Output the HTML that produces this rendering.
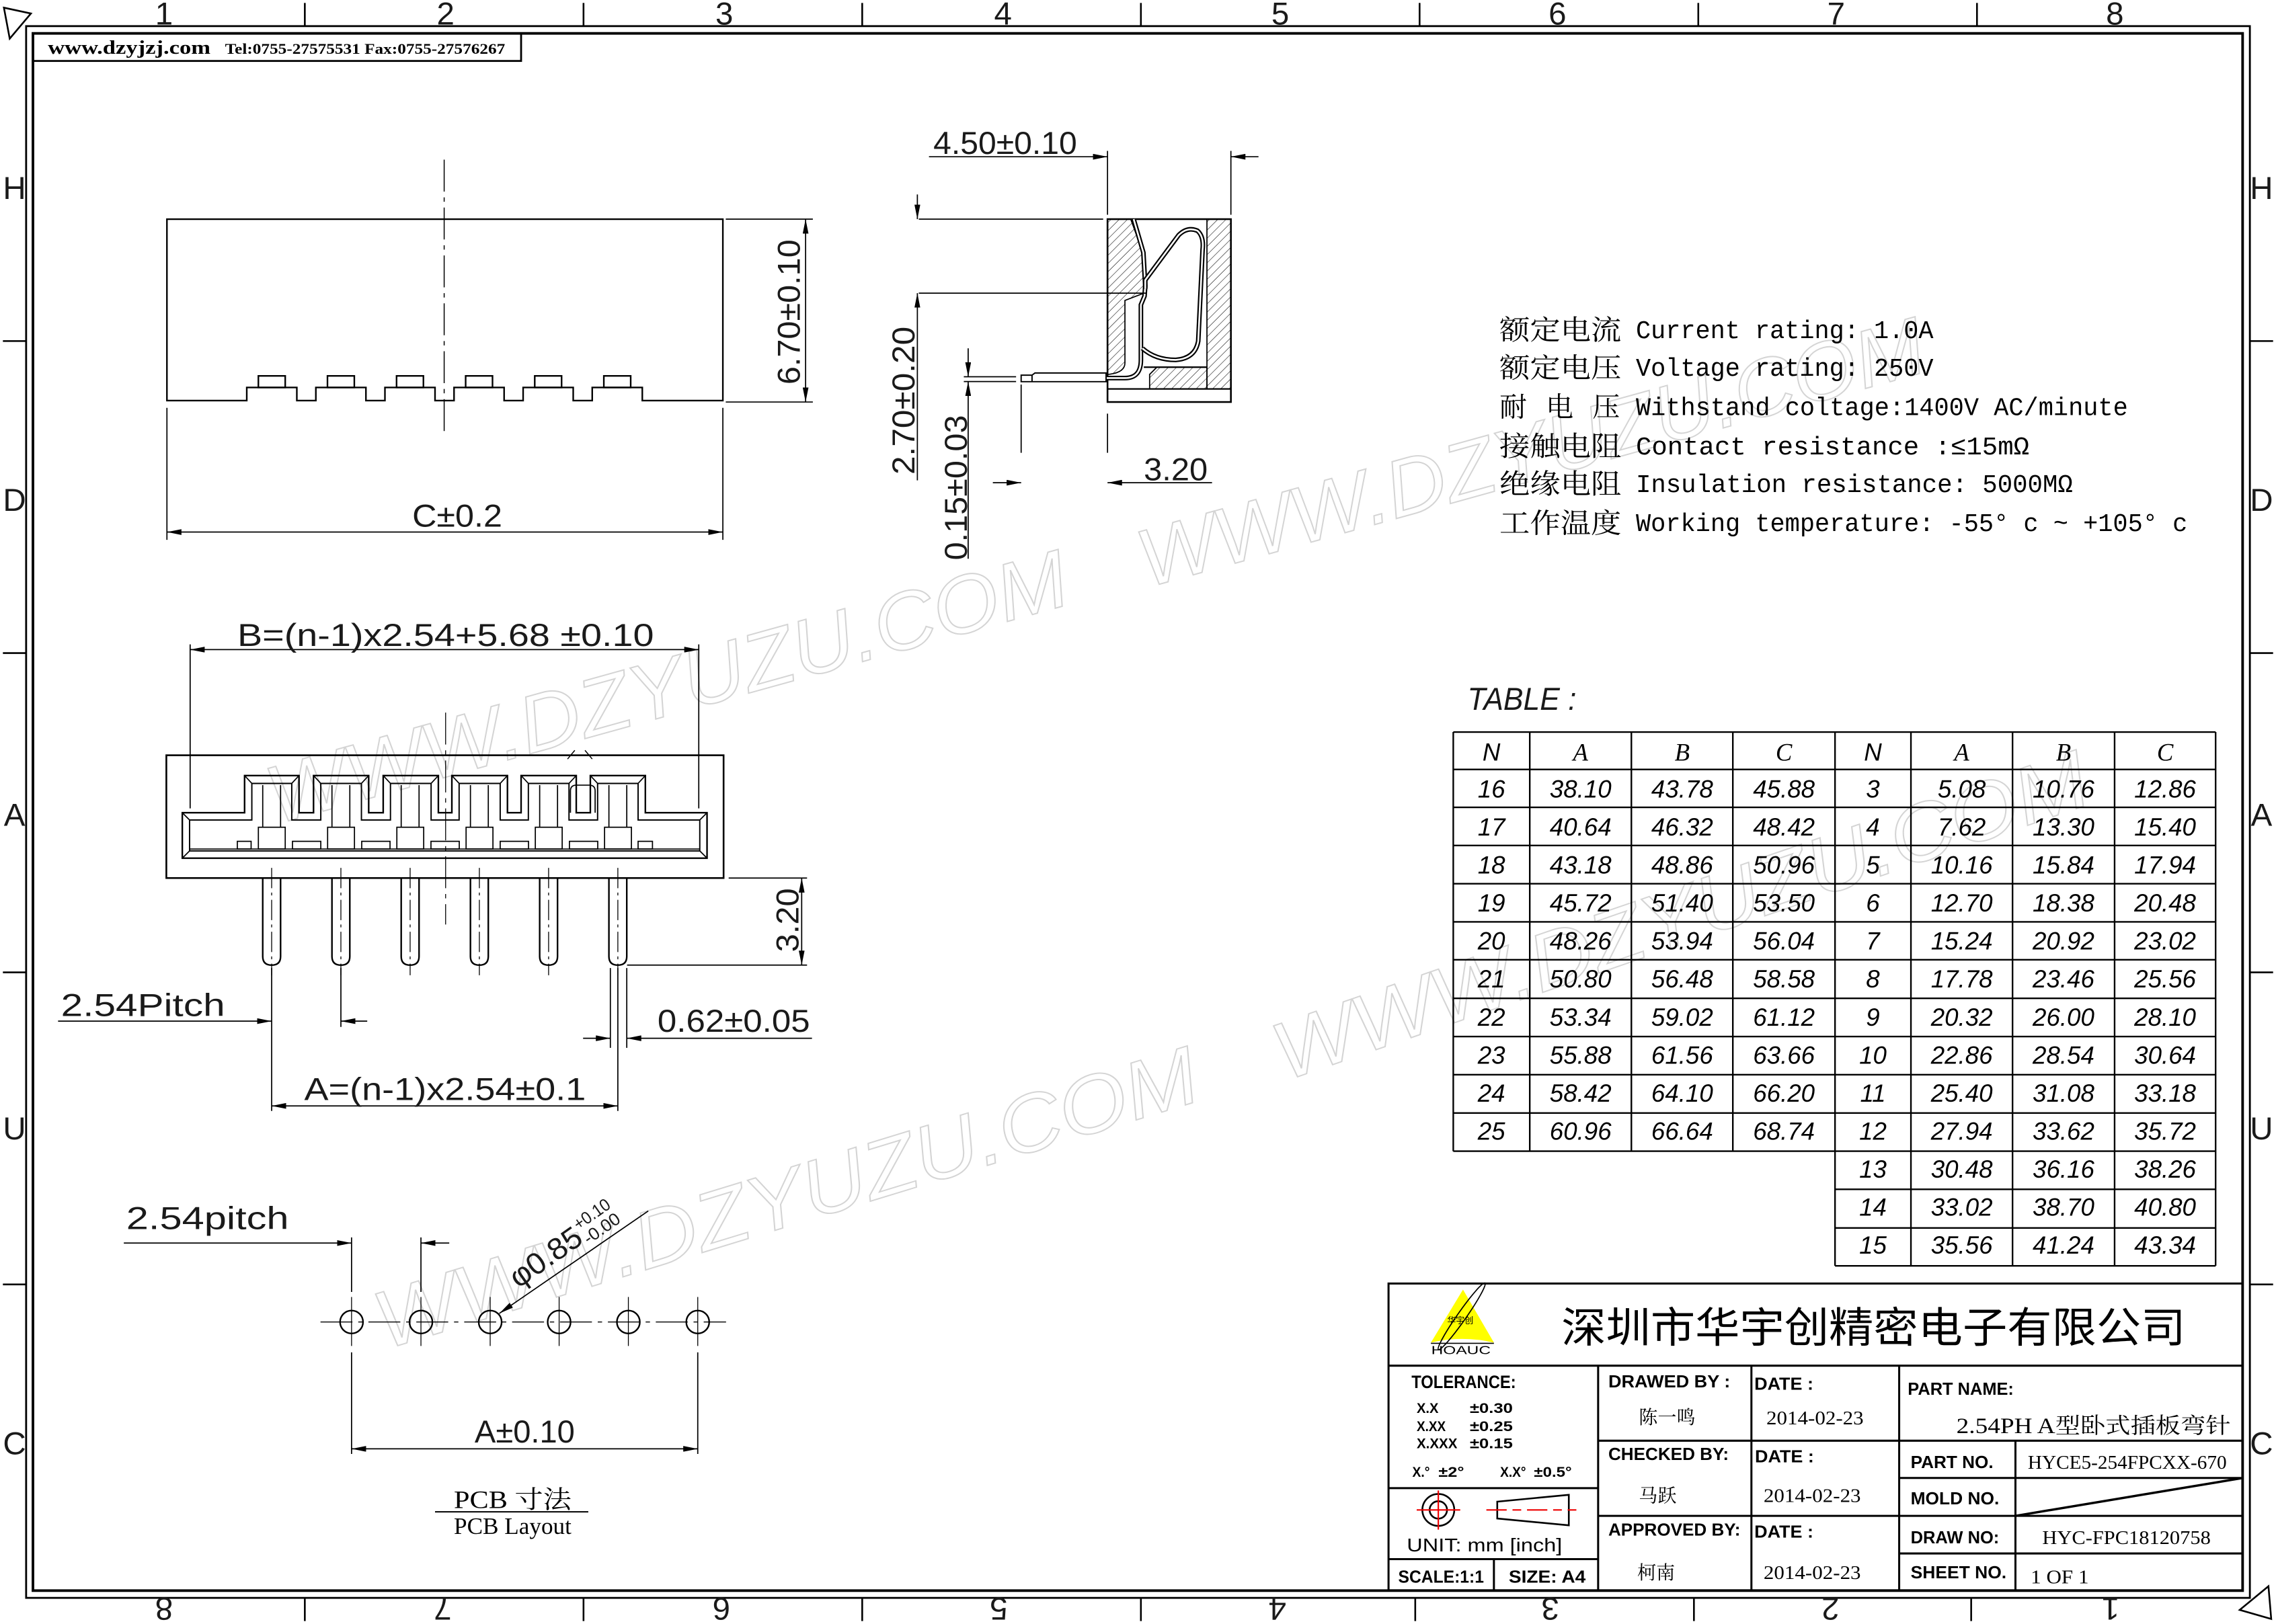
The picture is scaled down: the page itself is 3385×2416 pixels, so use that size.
<!DOCTYPE html>
<html><head><meta charset="utf-8"><style>
html,body{margin:0;padding:0;background:#fff;}
svg{display:block;}
.d{font-family:"Liberation Sans","DejaVu Sans",sans-serif;font-size:22px;fill:#1a1a1a;}
.t{font-family:"Liberation Sans",sans-serif;font-weight:bold;font-size:12px;fill:#000;}
.s{font-family:"Liberation Serif","Noto Serif CJK SC",serif;fill:#000;}
.m{font-family:"Liberation Mono","Noto Serif CJK SC",monospace;font-size:17.5px;fill:#000;}
.c{font-family:"Noto Serif CJK SC","Noto Sans CJK SC",serif;font-size:19px;fill:#000;}
.tb{font-family:"Liberation Sans",sans-serif;font-style:italic;font-size:17px;fill:#000;text-anchor:middle;}
.wm{font-family:"Liberation Sans",sans-serif;font-style:italic;font-size:56px;fill:#fff;stroke:#d4d4d4;stroke-width:0.9;}
</style></head><body>
<svg xmlns="http://www.w3.org/2000/svg" width="3385" height="2416" viewBox="0 0 1568 1119" preserveAspectRatio="none">
<defs>
<marker id="a" viewBox="0 0 10 4" refX="10" refY="2" markerWidth="10" markerHeight="4" markerUnits="userSpaceOnUse" orient="auto-start-reverse"><path d="M0,0 L10,2 L0,4Z" fill="#000"/></marker>
<pattern id="h" width="4" height="4" patternUnits="userSpaceOnUse" patternTransform="rotate(45)"><line x1="0" y1="0" x2="0" y2="4" stroke="#000" stroke-width="0.5"/></pattern>
</defs>

<!-- watermarks -->
<text class="wm" transform="translate(190,568) rotate(-15.5)" textLength="570" lengthAdjust="spacingAndGlyphs">WWW.DZYUZU.COM</text>
<text class="wm" transform="translate(790,405) rotate(-15.5)" textLength="560" lengthAdjust="spacingAndGlyphs">WWW.DZYUZU.COM</text>
<text class="wm" transform="translate(265,930) rotate(-17)" textLength="590" lengthAdjust="spacingAndGlyphs">WWW.DZYUZU.COM</text>
<text class="wm" transform="translate(885,745) rotate(-19)" textLength="590" lengthAdjust="spacingAndGlyphs">WWW.DZYUZU.COM</text>

<g fill="none" stroke="#000">
<rect x="18" y="18" width="1532" height="1083" stroke-width="1.3"/>
<rect x="22.7" y="23" width="1522.3" height="1073" stroke-width="1.8"/>
<rect x="22.7" y="23" width="336.3" height="19" stroke-width="1.3"/>
<path d="M210,2V18M402,2V18M594,2V18M786,2V18M978,2V18M1170,2V18M1362,2V18" stroke-width="1.2"/>
<path d="M210,1101V1117M402,1101V1117M594,1101V1117M786,1101V1117M975,1101V1117M1167,1101V1117M1358,1101V1117" stroke-width="1.2"/>
<path d="M2,235H18M2,450H18M2,670H18M2,885H18M1550,235H1566M1550,450H1566M1550,670H1566M1550,885H1566" stroke-width="1.2"/>
<path d="M2.7,5.3L21.3,9.3L6.7,26.6Z" stroke-width="1.2"/>
<path d="M1562.8,1093L1564.7,1115.5L1543,1109.3Z" stroke-width="1.2"/>
</g>
<g class="d" font-size="19" text-anchor="middle">
<text x="113" y="17">1</text><text x="307" y="17">2</text><text x="499" y="17">3</text><text x="691" y="17">4</text><text x="882" y="17">5</text><text x="1073" y="17">6</text><text x="1265" y="17">7</text><text x="1457" y="17">8</text>
<text x="10" y="137">H</text><text x="10" y="352">D</text><text x="10" y="569">A</text><text x="10" y="785">U</text><text x="10" y="1002">C</text>
<text x="1558" y="137">H</text><text x="1558" y="352">D</text><text x="1558" y="569">A</text><text x="1558" y="785">U</text><text x="1558" y="1002">C</text>
<text transform="translate(113,1101) rotate(180)">8</text><text transform="translate(305,1101) rotate(180)">7</text><text transform="translate(497,1101) rotate(180)">6</text><text transform="translate(688,1101) rotate(180)">5</text><text transform="translate(880,1101) rotate(180)">4</text><text transform="translate(1068,1101) rotate(180)">3</text><text transform="translate(1261,1101) rotate(180)">2</text><text transform="translate(1454,1101) rotate(180)">1</text>
</g>
<text class="s" x="33" y="37" font-size="13" font-weight="bold" textLength="112" lengthAdjust="spacingAndGlyphs">www.dzyjzj.com</text>
<text class="s" x="155" y="37" font-size="10.5" font-weight="bold" textLength="193" lengthAdjust="spacingAndGlyphs">Tel:0755-27575531  Fax:0755-27576267</text>

<!-- TOP VIEW -->
<g fill="none" stroke="#000" stroke-width="1.1">
<path d="M115,151 H498 V276 H442.5 V267 H408 V276 H394.9 V267 H360.4 V276 H347.3 V267 H312.8 V276 H299.7 V267 H265.2 V276 H252.1 V267 H217.6 V276 H204.5 V267 H170 V276 H115 Z"/>
<rect x="178" y="259" width="18.5" height="8"/><rect x="225.6" y="259" width="18.5" height="8"/><rect x="273.2" y="259" width="18.5" height="8"/><rect x="320.8" y="259" width="18.5" height="8"/><rect x="368.4" y="259" width="18.5" height="8"/><rect x="416" y="259" width="18.5" height="8"/>
<line x1="306" y1="110" x2="306" y2="300" stroke-width="0.7" stroke-dasharray="22 4 3 4"/>
<path d="M500,151H560M500,277H560M115,281V372M498,281V372" stroke-width="0.8"/>
<line x1="555" y1="151" x2="555" y2="277" stroke-width="0.8" marker-start="url(#a)" marker-end="url(#a)"/>
<line x1="115" y1="366.6" x2="498" y2="366.6" stroke-width="0.8" marker-start="url(#a)" marker-end="url(#a)"/>
</g>
<text class="d" x="284" y="363" textLength="62" lengthAdjust="spacingAndGlyphs">C±0.2</text>
<text class="d" transform="translate(551,265) rotate(-90)" textLength="100" lengthAdjust="spacingAndGlyphs">6.70±0.10</text>

<!-- SIDE VIEW -->
<g fill="none" stroke="#000" stroke-width="1">
<path d="M763,151 L779,151 L787.7,175 L788,202 L775,207 L775,250 Q775,257 763,258 Z" fill="url(#h)" stroke-width="0.8"/>
<rect x="831.5" y="151" width="16.5" height="117" fill="url(#h)" stroke-width="0.8"/>
<path d="M792,268 L792,258 L797,253 L831.5,253 L831.5,268 Z" fill="url(#h)" stroke-width="0.8"/>
<rect x="763" y="151" width="85" height="126" stroke-width="1.2"/>
<line x1="763" y1="268" x2="848" y2="268"/>
<line x1="788" y1="253" x2="831.5" y2="253"/>
<path d="M781,151 L787.7,174 L789,197 L788.5,204 L786,210 L786,248 Q786,260.5 775,260.5 L711,260.5" stroke-width="3.2"/>
<path d="M781,151 L787.7,174 L789,197 L788.5,204 L786,210 L786,248 Q786,260.5 775,260.5 L711,260.5" stroke="#fff" stroke-width="1.2"/>
<path d="M789,199 L789,193 L812,162 Q818,156 825,159 Q829.5,163 828.5,172 L825.5,235 Q823.5,247 810,248 Q796,248 787,240" stroke-width="3.2"/>
<path d="M789,199 L789,193 L812,162 Q818,156 825,159 Q829.5,163 828.5,172 L825.5,235 Q823.5,247 810,248 Q796,248 787,240" stroke="#fff" stroke-width="1.2"/>
<path d="M703.5,258.5 H711 L713,257 H762 V263 H703.5 Z M711,258.5 V263" fill="#fff" stroke-width="0.9"/>
<path d="M763,104V148M848,104V148M633,151H760M633,202H790M664,259.6H700M664,262.9H700M703.5,265V312M763,285V312" stroke-width="0.8"/>
<line x1="640" y1="108" x2="763" y2="108" stroke-width="0.8" marker-end="url(#a)"/>
<line x1="867" y1="108" x2="848" y2="108" stroke-width="0.8" marker-end="url(#a)"/>
<line x1="632" y1="134" x2="632" y2="151" stroke-width="0.8" marker-end="url(#a)"/>
<line x1="632" y1="331" x2="632" y2="202" stroke-width="0.8" marker-end="url(#a)"/>
<line x1="667" y1="240" x2="667" y2="259.6" stroke-width="0.8" marker-end="url(#a)"/>
<line x1="667" y1="385" x2="667" y2="262.9" stroke-width="0.8" marker-end="url(#a)"/>
<line x1="684" y1="332.6" x2="703.5" y2="332.6" stroke-width="0.8" marker-end="url(#a)"/>
<line x1="835" y1="332.6" x2="763" y2="332.6" stroke-width="0.8" marker-end="url(#a)"/>
</g>
<text class="d" x="643" y="106" textLength="99" lengthAdjust="spacingAndGlyphs">4.50±0.10</text>
<text class="d" transform="translate(630,327) rotate(-90)" textLength="102" lengthAdjust="spacingAndGlyphs">2.70±0.20</text>
<text class="d" transform="translate(666,386) rotate(-90)" textLength="100" lengthAdjust="spacingAndGlyphs">0.15±0.03</text>
<text class="d" x="788" y="331" textLength="44" lengthAdjust="spacingAndGlyphs">3.20</text>

<!-- SPEC TEXT -->
<g class="c">
<text x="1033" y="234" textLength="84" lengthAdjust="spacingAndGlyphs">额定电流</text>
<text x="1033" y="260" textLength="84" lengthAdjust="spacingAndGlyphs">额定电压</text>
<text x="1033" y="287">耐</text><text x="1065" y="287">电</text><text x="1097" y="287">压</text>
<text x="1033" y="314" textLength="84" lengthAdjust="spacingAndGlyphs">接触电阻</text>
<text x="1033" y="340" textLength="84" lengthAdjust="spacingAndGlyphs">绝缘电阻</text>
<text x="1033" y="367" textLength="84" lengthAdjust="spacingAndGlyphs">工作温度</text>
</g>
<g class="m">
<text x="1127" y="233" textLength="205" lengthAdjust="spacingAndGlyphs">Current rating: 1.0A</text>
<text x="1127" y="259" textLength="205" lengthAdjust="spacingAndGlyphs">Voltage rating: 250V</text>
<text x="1127" y="286" textLength="339" lengthAdjust="spacingAndGlyphs">Withstand coltage:1400V AC/minute</text>
<text x="1127" y="313" textLength="271" lengthAdjust="spacingAndGlyphs">Contact resistance :≤15mΩ</text>
<text x="1127" y="339" textLength="301" lengthAdjust="spacingAndGlyphs">Insulation resistance: 5000MΩ</text>
<text x="1127" y="366" textLength="380" lengthAdjust="spacingAndGlyphs">Working temperature: -55° c ~ +105° c</text>
</g>

<!-- FRONT VIEW -->
<g fill="none" stroke="#000" stroke-width="1.1">
<rect x="114.6" y="520.4" width="383.9" height="84.6" stroke-width="1.2"/>
<path d="M125.6,591.3 V560 H168.5 V534.4 H206 V560 H216 V534.4 H254 V560 H264 V534.4 H302 V560 H311.3 V534.4 H349.6 V560 H359 V534.4 H397 V560 H406.7 V534.4 H444.6 V560 H487.1 V591.3 Z"/>
<path d="M130.6,586.3 V565 H173.5 V539.8 H201 V565 H221 V539.8 H249 V565 H269 V539.8 H297 V565 H316.3 V539.8 H344.6 V565 H364 V539.8 H392 V565 H411.7 V539.8 H439.6 V565 H482.1 V586.3 Z" stroke-width="0.9"/>
<path d="M125.6,560L130.6,565M125.6,591.3L130.6,586.3M487.1,560L482.1,565M487.1,591.3L482.1,586.3M168.5,534.4L173.5,539.8M206,534.4L201,539.8M216,534.4L221,539.8M254,534.4L249,539.8M264,534.4L269,539.8M302,534.4L297,539.8M311.3,534.4L316.3,539.8M349.6,534.4L344.6,539.8M359,534.4L364,539.8M397,534.4L392,539.8M406.7,534.4L411.7,539.8M444.6,534.4L439.6,539.8" stroke-width="0.8"/>
<line x1="130.6" y1="585" x2="482.1" y2="585" stroke-width="0.8"/>
<g stroke-width="0.8">
<path d="M181,541V570M193.3,541V570M228.7,541V570M241,541V570M276.4,541V570M288.7,541V570M324.1,541V570M336.4,541V570M371.8,541V570M384.1,541V570M419.5,541V570M431.8,541V570"/>
<rect x="178" y="570" width="18.5" height="15"/><rect x="225.7" y="570" width="18.5" height="15"/><rect x="273.4" y="570" width="18.5" height="15"/><rect x="321.1" y="570" width="18.5" height="15"/><rect x="368.8" y="570" width="18.5" height="15"/><rect x="416.5" y="570" width="18.5" height="15"/>
<rect x="163.5" y="579.7" width="9.5" height="5.3"/><rect x="201.5" y="579.7" width="19.5" height="5.3"/><rect x="249.2" y="579.7" width="19.5" height="5.3"/><rect x="296.9" y="579.7" width="19.5" height="5.3"/><rect x="344.6" y="579.7" width="19.5" height="5.3"/><rect x="392.3" y="579.7" width="19.5" height="5.3"/><rect x="439.6" y="579.7" width="9.9" height="5.3"/>
<path d="M393,560 V545 Q393,541 397,541 H406 Q410,541 410,545 V560"/>
<path d="M391,523 L396,517 M403,517 L408,523" stroke-width="0.7"/>
</g>
<path d="M181,605V659Q181,665 187.15,665Q193.3,665 193.3,659V605 M228.7,605V659Q228.7,665 234.85,665Q241,665 241,659V605 M276.4,605V659Q276.4,665 282.55,665Q288.7,665 288.7,659V605 M324.1,605V659Q324.1,665 330.25,665Q336.4,665 336.4,659V605 M371.8,605V659Q371.8,665 377.95,665Q384.1,665 384.1,659V605 M419.5,605V659Q419.5,665 425.65,665Q431.8,665 431.8,659V605"/>
<path d="M187.15,598V672M234.85,598V672M282.55,598V672M330.25,598V672M377.95,598V672M425.65,598V672" stroke-width="0.6" stroke-dasharray="14 3 2 3"/>
<line x1="307" y1="491" x2="307" y2="637" stroke-width="0.6" stroke-dasharray="22 4 3 4"/>
<path d="M131,444V557M481.4,444V557M502,605H556M432,665H556M187.15,667V765.5M234.85,667V707.6M420.5,667V722M431.8,667V722M425.65,667V765.5" stroke-width="0.8"/>
<line x1="131" y1="447.6" x2="481.4" y2="447.6" stroke-width="0.8" marker-start="url(#a)" marker-end="url(#a)"/>
<line x1="552.3" y1="605" x2="552.3" y2="665" stroke-width="0.8" marker-start="url(#a)" marker-end="url(#a)"/>
<line x1="40" y1="703.6" x2="187.15" y2="703.6" stroke-width="0.8" marker-end="url(#a)"/>
<line x1="253" y1="703.6" x2="234.85" y2="703.6" stroke-width="0.8" marker-end="url(#a)"/>
<line x1="401.7" y1="715.4" x2="420.5" y2="715.4" stroke-width="0.8" marker-end="url(#a)"/>
<line x1="559.4" y1="715.4" x2="431.8" y2="715.4" stroke-width="0.8" marker-end="url(#a)"/>
<line x1="187.15" y1="762" x2="425.65" y2="762" stroke-width="0.8" marker-start="url(#a)" marker-end="url(#a)"/>
</g>
<text class="d" x="163.5" y="445" textLength="287" lengthAdjust="spacingAndGlyphs">B=(n-1)x2.54+5.68  ±0.10</text>
<text class="d" transform="translate(550,656) rotate(-90)" textLength="44" lengthAdjust="spacingAndGlyphs">3.20</text>
<text class="d" x="42" y="700" textLength="113" lengthAdjust="spacingAndGlyphs">2.54Pitch</text>
<text class="d" x="453" y="711" textLength="105" lengthAdjust="spacingAndGlyphs">0.62±0.05</text>
<text class="d" x="209.6" y="758" textLength="194" lengthAdjust="spacingAndGlyphs">A=(n-1)x2.54±0.1</text>

<!-- PCB LAYOUT -->
<g fill="none" stroke="#000" stroke-width="1.1">
<circle cx="242.2" cy="910.9" r="7.9"/><circle cx="290" cy="910.9" r="7.9"/><circle cx="337.7" cy="910.9" r="7.9"/><circle cx="385.2" cy="910.9" r="7.9"/><circle cx="432.9" cy="910.9" r="7.9"/><circle cx="480.7" cy="910.9" r="7.9"/>
<line x1="220.8" y1="910.9" x2="500.2" y2="910.9" stroke-width="0.6" stroke-dasharray="22 4 3 4"/>
<path d="M242.2,893.7V927.4M290,893.7V927.4M337.7,893.7V927.4M385.2,893.7V927.4M432.9,893.7V927.4M480.7,893.7V927.4" stroke-width="0.6"/>
<path d="M242.2,852.6V890.2M290,852.6V890.2M242.2,931.8V1001.8M480.7,931.8V1001.8" stroke-width="0.8"/>
<line x1="85.3" y1="856.5" x2="242.2" y2="856.5" stroke-width="0.8" marker-end="url(#a)"/>
<line x1="309.5" y1="856.5" x2="290" y2="856.5" stroke-width="0.8" marker-end="url(#a)"/>
<line x1="446.6" y1="834.4" x2="344" y2="905" stroke-width="0.8" marker-end="url(#a)"/>
<line x1="242.2" y1="998.3" x2="480.7" y2="998.3" stroke-width="0.8" marker-start="url(#a)" marker-end="url(#a)"/>
<line x1="299.7" y1="1041.7" x2="405.3" y2="1041.7" stroke-width="0.9"/>
</g>
<text class="d" x="87" y="847" textLength="112" lengthAdjust="spacingAndGlyphs">2.54pitch</text>
<g class="d" transform="translate(357,888) rotate(-35)">
<text x="0" y="0" font-size="21" textLength="56" lengthAdjust="spacingAndGlyphs">φ0.85</text>
<text x="57" y="-9" font-size="12" textLength="28" lengthAdjust="spacingAndGlyphs">+0.10</text>
<text x="57" y="3" font-size="12" textLength="28" lengthAdjust="spacingAndGlyphs">-0.00</text>
</g>
<text class="d" x="327" y="994" textLength="69" lengthAdjust="spacingAndGlyphs">A±0.10</text>
<text class="s" x="312.7" y="1039" font-size="17" textLength="81" lengthAdjust="spacingAndGlyphs">PCB  寸法</text>
<text class="s" x="312.7" y="1057" font-size="16" textLength="81" lengthAdjust="spacingAndGlyphs">PCB Layout</text>

<!-- TABLE -->
<text class="d" x="1011" y="489" font-size="20" font-style="italic" textLength="75" lengthAdjust="spacingAndGlyphs">TABLE :</text>
<g fill="none" stroke="#000" stroke-width="1.1">
<path d="M1001.2,504.4H1526.4M1001.2,530.2H1526.4M1001.2,556.3H1526.4M1001.2,582.6H1526.4M1001.2,608.9H1526.4M1001.2,635.2H1526.4M1001.2,661.3H1526.4M1001.2,687.9H1526.4M1001.2,714.2H1526.4M1001.2,740.5H1526.4M1001.2,766.9H1526.4M1001.2,793.2H1526.4M1264.2,819.5H1526.4M1264.2,846.1H1526.4M1264.2,872.2H1526.4"/>
<path d="M1001.2,504.4V793.2M1053.9,504.4V793.2M1123.9,504.4V793.2M1193.8,504.4V793.2M1264.2,504.4V872.2M1316.5,504.4V872.2M1386.5,504.4V872.2M1456.8,504.4V872.2M1526.4,504.4V872.2"/>
</g>
<g class="tb">
<text y="524"><tspan x="1027.5">N</tspan><tspan x="1290.3">N</tspan></text>
<text y="524" font-family="Liberation Serif,serif"><tspan x="1088.9">A</tspan><tspan x="1158.9">B</tspan><tspan x="1229">C</tspan><tspan x="1351.5">A</tspan><tspan x="1421.6">B</tspan><tspan x="1491.6">C</tspan></text>
<text y="549.5"><tspan x="1027.5">16</tspan><tspan x="1088.9">38.10</tspan><tspan x="1158.9">43.78</tspan><tspan x="1229">45.88</tspan><tspan x="1290.3">3</tspan><tspan x="1351.5">5.08</tspan><tspan x="1421.6">10.76</tspan><tspan x="1491.6">12.86</tspan></text>
<text y="575.7"><tspan x="1027.5">17</tspan><tspan x="1088.9">40.64</tspan><tspan x="1158.9">46.32</tspan><tspan x="1229">48.42</tspan><tspan x="1290.3">4</tspan><tspan x="1351.5">7.62</tspan><tspan x="1421.6">13.30</tspan><tspan x="1491.6">15.40</tspan></text>
<text y="601.9"><tspan x="1027.5">18</tspan><tspan x="1088.9">43.18</tspan><tspan x="1158.9">48.86</tspan><tspan x="1229">50.96</tspan><tspan x="1290.3">5</tspan><tspan x="1351.5">10.16</tspan><tspan x="1421.6">15.84</tspan><tspan x="1491.6">17.94</tspan></text>
<text y="628.1"><tspan x="1027.5">19</tspan><tspan x="1088.9">45.72</tspan><tspan x="1158.9">51.40</tspan><tspan x="1229">53.50</tspan><tspan x="1290.3">6</tspan><tspan x="1351.5">12.70</tspan><tspan x="1421.6">18.38</tspan><tspan x="1491.6">20.48</tspan></text>
<text y="654.3"><tspan x="1027.5">20</tspan><tspan x="1088.9">48.26</tspan><tspan x="1158.9">53.94</tspan><tspan x="1229">56.04</tspan><tspan x="1290.3">7</tspan><tspan x="1351.5">15.24</tspan><tspan x="1421.6">20.92</tspan><tspan x="1491.6">23.02</tspan></text>
<text y="680.5"><tspan x="1027.5">21</tspan><tspan x="1088.9">50.80</tspan><tspan x="1158.9">56.48</tspan><tspan x="1229">58.58</tspan><tspan x="1290.3">8</tspan><tspan x="1351.5">17.78</tspan><tspan x="1421.6">23.46</tspan><tspan x="1491.6">25.56</tspan></text>
<text y="706.7"><tspan x="1027.5">22</tspan><tspan x="1088.9">53.34</tspan><tspan x="1158.9">59.02</tspan><tspan x="1229">61.12</tspan><tspan x="1290.3">9</tspan><tspan x="1351.5">20.32</tspan><tspan x="1421.6">26.00</tspan><tspan x="1491.6">28.10</tspan></text>
<text y="732.9"><tspan x="1027.5">23</tspan><tspan x="1088.9">55.88</tspan><tspan x="1158.9">61.56</tspan><tspan x="1229">63.66</tspan><tspan x="1290.3">10</tspan><tspan x="1351.5">22.86</tspan><tspan x="1421.6">28.54</tspan><tspan x="1491.6">30.64</tspan></text>
<text y="759.1"><tspan x="1027.5">24</tspan><tspan x="1088.9">58.42</tspan><tspan x="1158.9">64.10</tspan><tspan x="1229">66.20</tspan><tspan x="1290.3">11</tspan><tspan x="1351.5">25.40</tspan><tspan x="1421.6">31.08</tspan><tspan x="1491.6">33.18</tspan></text>
<text y="785.3"><tspan x="1027.5">25</tspan><tspan x="1088.9">60.96</tspan><tspan x="1158.9">66.64</tspan><tspan x="1229">68.74</tspan><tspan x="1290.3">12</tspan><tspan x="1351.5">27.94</tspan><tspan x="1421.6">33.62</tspan><tspan x="1491.6">35.72</tspan></text>
<text y="811.5"><tspan x="1290.3">13</tspan><tspan x="1351.5">30.48</tspan><tspan x="1421.6">36.16</tspan><tspan x="1491.6">38.26</tspan></text>
<text y="837.7"><tspan x="1290.3">14</tspan><tspan x="1351.5">33.02</tspan><tspan x="1421.6">38.70</tspan><tspan x="1491.6">40.80</tspan></text>
<text y="863.9"><tspan x="1290.3">15</tspan><tspan x="1351.5">35.56</tspan><tspan x="1421.6">41.24</tspan><tspan x="1491.6">43.34</tspan></text>
</g>

<!-- TITLE BLOCK -->
<g fill="none" stroke="#000" stroke-width="1.4">
<rect x="956.6" y="884.4" width="588.4" height="211.4"/>
<path d="M956.6,941H1545M1101,941V1095.8M1206.6,941V1095.8M1308.4,941V1095.8M1388.5,992.7V1095.8M956.6,1025.4H1101M956.6,1074.3H1101M1029.2,1074.3V1095.8M1101,992.7H1308.4M1101,1044.5H1308.4M1308.4,992.7H1545M1308.4,1018.4H1545M1308.4,1044.5H1545M1308.4,1070.4H1545"/>
<line x1="1388.5" y1="1044.5" x2="1545" y2="1018.4" stroke-width="1.6"/>
<circle cx="990.9" cy="1040.4" r="11" stroke-width="1.2"/><circle cx="990.9" cy="1040.4" r="6" stroke-width="1.2"/>
<path d="M1031.5,1034.7L1080.8,1030L1080.8,1051L1031.5,1046.3Z" stroke-width="1.2"/>
<path d="M976,1040.4H1006M990.9,1027V1054" stroke="#e00" stroke-width="1"/>
<path d="M1024,1040.4H1086" stroke="#e00" stroke-width="1" stroke-dasharray="14 4 6 4"/>
</g>
<path d="M1007.9,888.6 L1029.2,925.1 Q1007.5,920 985.8,925.1 Z" fill="#ffff00"/>
<ellipse cx="1007" cy="907" rx="28" ry="3" transform="rotate(-55 1007 907)" fill="none" stroke="#000" stroke-width="0.8"/>
<line x1="985.8" y1="925.6" x2="1029.2" y2="925.6" stroke="#000" stroke-width="0.8"/>
<text x="997" y="912" font-family="Noto Sans CJK SC,sans-serif" font-size="6" fill="#000">华宇创</text>
<text x="986" y="933" font-family="Liberation Sans,sans-serif" font-size="8" fill="#000" textLength="41" lengthAdjust="spacingAndGlyphs">HOAUC</text>
<text x="1075.7" y="925" font-family="Noto Sans CJK SC,sans-serif" font-size="29" fill="#000" textLength="430" lengthAdjust="spacingAndGlyphs">深圳市华宇创精密电子有限公司</text>
<g class="t">
<text x="972.4" y="956.5" font-size="12.5" textLength="72" lengthAdjust="spacingAndGlyphs">TOLERANCE:</text>
<text x="976" y="973.5" font-size="10" textLength="15" lengthAdjust="spacingAndGlyphs">X.X</text><text x="1012.6" y="973.5" font-size="10" textLength="29.6" lengthAdjust="spacingAndGlyphs">±0.30</text>
<text x="976" y="986" font-size="10" textLength="20" lengthAdjust="spacingAndGlyphs">X.XX</text><text x="1012.6" y="986" font-size="10" textLength="29.6" lengthAdjust="spacingAndGlyphs">±0.25</text>
<text x="976" y="998" font-size="10" textLength="28" lengthAdjust="spacingAndGlyphs">X.XXX</text><text x="1012.6" y="998" font-size="10" textLength="29.6" lengthAdjust="spacingAndGlyphs">±0.15</text>
<text x="973" y="1017.5" font-size="10" textLength="12" lengthAdjust="spacingAndGlyphs">X.°</text><text x="991" y="1017.5" font-size="10" textLength="17.7" lengthAdjust="spacingAndGlyphs">±2°</text>
<text x="1033.5" y="1017.5" font-size="10" textLength="17.8" lengthAdjust="spacingAndGlyphs">X.X°</text><text x="1056.8" y="1017.5" font-size="10" textLength="26" lengthAdjust="spacingAndGlyphs">±0.5°</text>
<text x="969.2" y="1069" font-size="13" font-weight="normal" textLength="107" lengthAdjust="spacingAndGlyphs">UNIT:  mm  [inch]</text>
<text x="963.3" y="1090.5" font-size="12" textLength="59" lengthAdjust="spacingAndGlyphs">SCALE:1:1</text>
<text x="1039.4" y="1090.5" font-size="12" textLength="53" lengthAdjust="spacingAndGlyphs">SIZE:  A4</text>
<text x="1108" y="956" font-size="12" textLength="84" lengthAdjust="spacingAndGlyphs">DRAWED  BY  :</text>
<text x="1208.6" y="957.5" font-size="12" textLength="40.7" lengthAdjust="spacingAndGlyphs">DATE  :</text>
<text x="1108" y="1006" font-size="12" textLength="83" lengthAdjust="spacingAndGlyphs">CHECKED  BY:</text>
<text x="1209" y="1007.5" font-size="12" textLength="40.7" lengthAdjust="spacingAndGlyphs">DATE  :</text>
<text x="1108" y="1058" font-size="12" textLength="91" lengthAdjust="spacingAndGlyphs">APPROVED  BY:</text>
<text x="1208.6" y="1059.5" font-size="12" textLength="40.7" lengthAdjust="spacingAndGlyphs">DATE  :</text>
<text x="1314.3" y="961" font-size="12" textLength="73" lengthAdjust="spacingAndGlyphs">PART  NAME:</text>
<text x="1316.3" y="1011.5" font-size="12" textLength="57" lengthAdjust="spacingAndGlyphs">PART  NO.</text>
<text x="1316.3" y="1036.5" font-size="12" textLength="61" lengthAdjust="spacingAndGlyphs">MOLD  NO.</text>
<text x="1316.3" y="1063.5" font-size="12" textLength="61" lengthAdjust="spacingAndGlyphs">DRAW  NO:</text>
<text x="1316.3" y="1087.5" font-size="12" textLength="66" lengthAdjust="spacingAndGlyphs">SHEET  NO.</text>
</g>
<g class="s" fill="#222">
<text x="1129" y="981" font-size="13" textLength="39" lengthAdjust="spacingAndGlyphs">陈一鸣</text>
<text x="1216.9" y="981.5" font-size="13" textLength="67" lengthAdjust="spacingAndGlyphs">2014-02-23</text>
<text x="1129" y="1035" font-size="13" textLength="26" lengthAdjust="spacingAndGlyphs">马跃</text>
<text x="1215" y="1035" font-size="13" textLength="67" lengthAdjust="spacingAndGlyphs">2014-02-23</text>
<text x="1128" y="1088" font-size="13" textLength="26" lengthAdjust="spacingAndGlyphs">柯南</text>
<text x="1215" y="1088" font-size="13" textLength="67" lengthAdjust="spacingAndGlyphs">2014-02-23</text>
<text x="1347.8" y="987.5" font-size="15" textLength="189" lengthAdjust="spacingAndGlyphs">2.54PH A型卧式插板弯针</text>
<text x="1397" y="1012" font-size="13" textLength="137" lengthAdjust="spacingAndGlyphs">HYCE5-254FPCXX-670</text>
<text x="1407" y="1064" font-size="13" textLength="116" lengthAdjust="spacingAndGlyphs">HYC-FPC18120758</text>
<text x="1399" y="1091" font-size="13" textLength="40" lengthAdjust="spacingAndGlyphs">1 OF 1</text>
</g>
</svg>
</body></html>
